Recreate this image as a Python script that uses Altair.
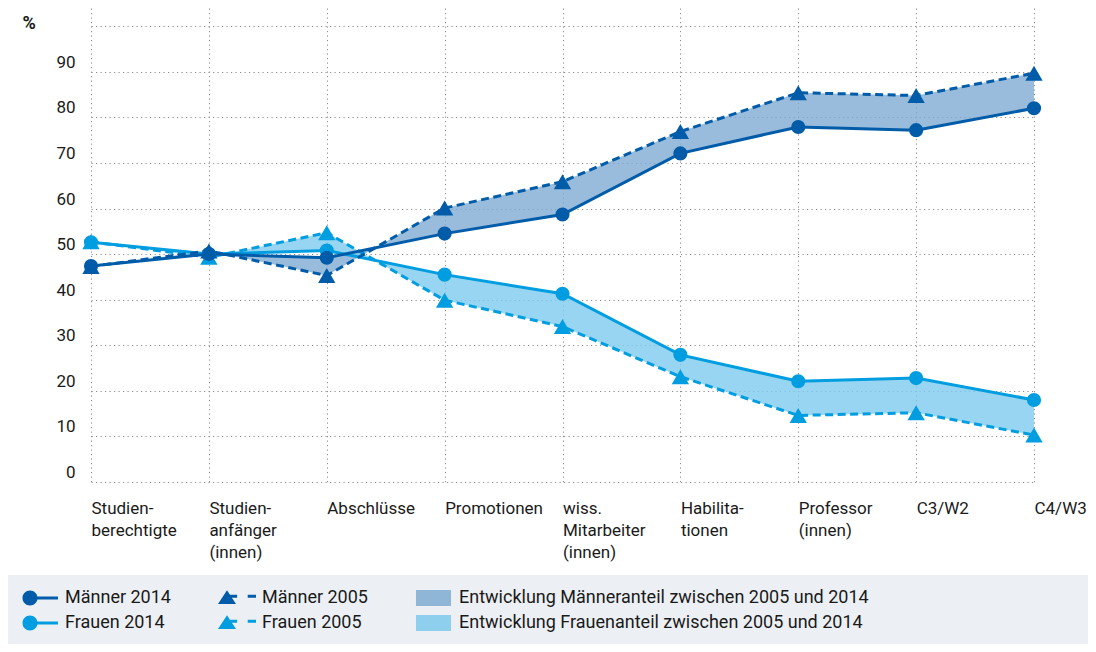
import altair as alt
import pandas as pd

categories = ["Studien-\nberechtigte", "Studien-\nanfänger\n(innen)", "Abschlüsse", "Promotionen",
              "wiss.\nMitarbeiter\n(innen)", "Habilita-\ntionen", "Professor\n(innen)", "C3/W2", "C4/W3"]
maenner_2014 = [47.4, 50.0, 49.2, 54.5, 58.7, 72.1, 77.9, 77.2, 82.0]
frauen_2014 = [52.6, 50.0, 50.8, 45.5, 41.3, 27.9, 22.1, 22.8, 18.0]
maenner_2005 = [47.3, 50.7, 45.3, 60.1, 65.9, 76.9, 85.4, 84.8, 89.7]
frauen_2005 = [52.7, 49.3, 54.7, 39.9, 34.1, 23.1, 14.6, 15.2, 10.3]
y_ticks = [0, 10, 20, 30, 40, 50, 60, 70, 80, 90, 100]

legend_keys = ["Männer 2014", "Männer 2005", "Entwicklung Männeranteil zwischen 2005 und 2014",
               "Frauen 2014", "Frauen 2005", "Entwicklung Frauenanteil zwischen 2005 und 2014"]

DARK = "#005CA9"
LIGHT = "#009EE0"
FILL_DARK = "#81ABD3"
FILL_LIGHT = "#7ECAEF"
LEG_FILL_DARK = "#90B6D7"
LEG_FILL_LIGHT = "#8ECFEE"
FONT = "Roboto"
TEXT = "#1a1a1a"
FS = 18
FS_AX = 17

series_values = {
    "Männer 2014": maenner_2014,
    "Frauen 2014": frauen_2014,
    "Männer 2005": maenner_2005,
    "Frauen 2005": frauen_2005,
}
rows = []
for s, vals in series_values.items():
    for c, v in zip(categories, vals):
        rows.append({"category": c, "series": s, "value": v})
lines_df = pd.DataFrame(rows)

area_df = pd.DataFrame(
    [{"category": c, "group": "M", "v14": a, "v05": b} for c, a, b in zip(categories, maenner_2014, maenner_2005)]
    + [{"category": c, "group": "F", "v14": a, "v05": b} for c, a, b in zip(categories, frauen_2014, frauen_2005)]
)

x_axis = alt.Axis(title=None, grid=True, ticks=False, tickSize=0, domain=False, labelAngle=0,
                  labelAlign="left", labelBaseline="alphabetic", labelPadding=31,
                  labelLineHeight=22, labelExpr="split(datum.label, '\\n')",
                  labelOverlap=False, labelBound=False, labelFlush=False, labelLimit=300,
                  labelFont=FONT, labelFontSize=FS_AX, labelColor=TEXT)
y_axis = alt.Axis(title="%", values=y_ticks, grid=True, ticks=False, tickSize=0, domain=False,
                  labelAlign="right", labelBaseline="alphabetic", labelPadding=-67, labelOffset=-4.5,
                  labelExpr="datum.value == 100 ? '' : datum.label",
                  labelFont=FONT, labelFontSize=FS_AX, labelColor=TEXT,
                  titleAngle=0, titleX=14, titleY=20.5, titleAlign="left", titleBaseline="alphabetic",
                  titleFont=FONT, titleFontSize=18, titleFontWeight="bold", titleColor=TEXT)

x_scale = alt.Scale(domain=categories, range=[83, 1026], padding=0, round=False)
y_scale = alt.Scale(domain=[0, 104], nice=False, zero=False)


def X():
    return alt.X("category:N", sort=categories, scale=x_scale, axis=x_axis)


def Y(field="value"):
    return alt.Y(f"{field}:Q", scale=y_scale, axis=y_axis)


grey_band = alt.Chart(pd.DataFrame({"a": [0]})).mark_rect(color="#ECF0F4").encode(
    x=alt.value(0), x2=alt.value(1080), y=alt.value(567), y2=alt.value(636))

areas = []
for g, col in [("M", FILL_DARK), ("F", FILL_LIGHT)]:
    areas.append(
        alt.Chart(area_df).transform_filter(alt.datum.group == g)
        .mark_area(color=col, opacity=0.8)
        .encode(x=X(), y=Y("v14"), y2="v05:Q")
    )

def line_layer(series, color, dashed):
    props = dict(color=color, strokeWidth=3)
    if dashed:
        props["strokeDash"] = [8, 4.5]
    return alt.Chart(lines_df).transform_filter(alt.datum.series == series).mark_line(**props).encode(
        x=X(), y=Y())

def point_layer(series, color, shape, size):
    return alt.Chart(lines_df).transform_filter(alt.datum.series == series).mark_point(
        filled=True, color=color, shape=shape, size=size, opacity=1, strokeWidth=0).encode(
        x=X(), y=Y())

layers = [grey_band] + areas + [
    line_layer("Frauen 2005", LIGHT, True),
    line_layer("Frauen 2014", LIGHT, False),
    line_layer("Männer 2005", DARK, True),
    line_layer("Männer 2014", DARK, False),
    point_layer("Frauen 2005", LIGHT, "triangle-up", 300),
    point_layer("Frauen 2014", LIGHT, "circle", 200),
    point_layer("Männer 2005", DARK, "triangle-up", 300),
    point_layer("Männer 2014", DARK, "circle", 200),
]

path_circle = "M-1,0A1,1,0,1,1,1,0A1,1,0,1,1,-1,0Z M0.9,-0.2L3.73,-0.2L3.73,0.2L0.9,0.2Z"
path_tri = ("M-1.2,0.8L0,-1.05L1.2,0.8Z M0,-0.45L1.35,-0.45L1.35,-0.05L0,-0.05Z "
            "M2.76,-0.45L3.87,-0.45L3.87,-0.05L2.76,-0.05Z")
path_sq = "M-1.07,-1.07L3.6,-1.07L3.6,1.07L-1.07,1.07Z"
legend_colors = [DARK, DARK, LEG_FILL_DARK, LIGHT, LIGHT, LEG_FILL_LIGHT]
legend_paths = [path_circle, path_tri, path_sq, path_circle, path_tri, path_sq]

leg = alt.Legend(orient="none", legendX=13, legendY=581, direction="horizontal", columns=3,
                 title=None, symbolSize=225, symbolOpacity=1, symbolStrokeWidth=0,
                 labelFont=FONT, labelFontSize=FS, labelColor=TEXT, labelOffset=26,
                 rowPadding=7, columnPadding=47, labelLimit=600, padding=0)

legend_layer = alt.Chart(pd.DataFrame({"key": legend_keys})).mark_point(
    filled=True, opacity=0, size=1).encode(
    color=alt.Color("key:N", scale=alt.Scale(domain=legend_keys, range=legend_colors), legend=leg),
    shape=alt.Shape("key:N", scale=alt.Scale(domain=legend_keys, range=legend_paths), legend=leg),
    x=alt.value(0), y=alt.value(0))

chart = alt.layer(*layers, legend_layer).properties(
    width=1080, height=474,
    autosize=alt.AutoSizeParams(type="none"),
    padding={"left": 0, "top": 0, "right": 0, "bottom": 162},
    background="white",
).configure_view(stroke=None).configure_axis(
    gridColor="#8c8c8c", gridDash=[1.2, 3.3], gridWidth=1
)

chart.save("out.html", embed_options={"renderer": "svg", "actions": False})
